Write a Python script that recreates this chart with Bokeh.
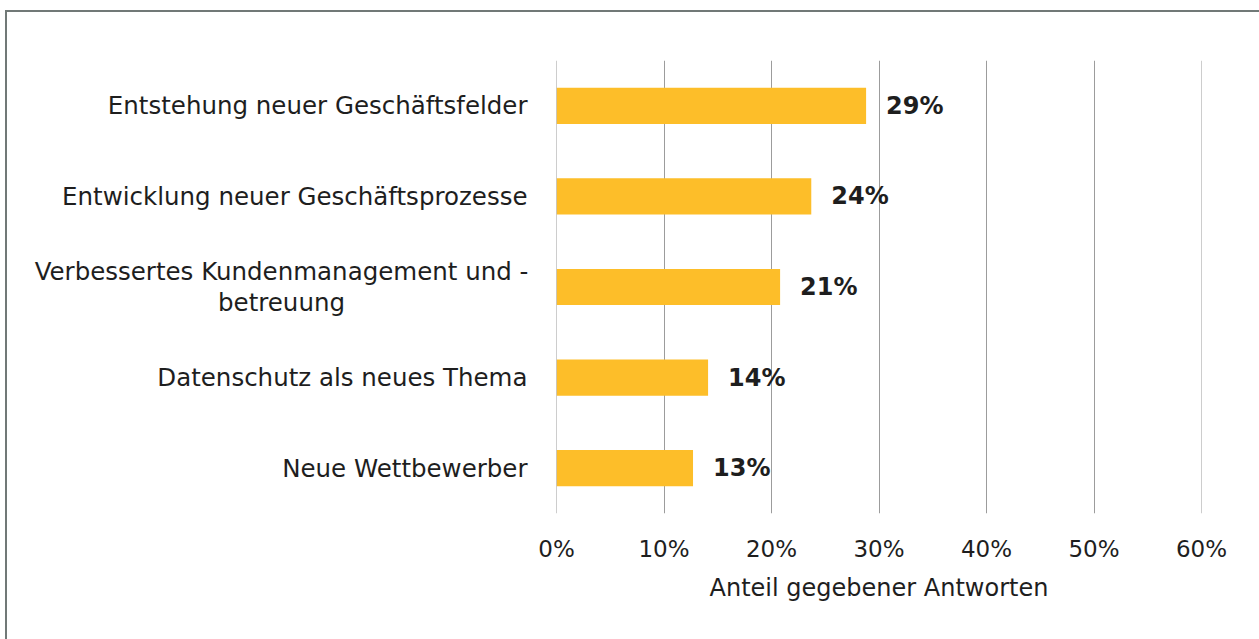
from bokeh.plotting import figure
from bokeh.layouts import row
from bokeh.models import ColumnDataSource, FactorRange, FixedTicker, PrintfTickFormatter, LabelSet, Span, Range1d
from bokeh.core.properties import value
from bokeh.embed import file_html
from bokeh.resources import INLINE

categories = [
    "Entstehung neuer Geschäftsfelder",
    "Entwicklung neuer Geschäftsprozesse",
    "Verbessertes Kundenmanagement und -\nbetreuung",
    "Datenschutz als neues Thema",
    "Neue Wettbewerber",
]
values = [28.8, 23.7, 20.8, 14.1, 12.7]
value_labels = ["29%", "24%", "21%", "14%", "13%"]
x_ticks = [0, 10, 20, 30, 40, 50, 60]
x_title = "Anteil gegebener Antworten"

FONT = "DejaVu Sans"
TEXT = "#1e1e1e"
GRID = "#9c9c9c"

P_PAD = 20            # space left of the bars inside the main chart (px)
LEFT_W = 529          # width of the label panel (px)
LABEL_GAP = 29        # gap between label and bars (px)
MULTI_HALF = 246      # half width of the first line of the two-line label (px)

source = ColumnDataSource(dict(cat=categories, val=values, lab=value_labels))

yr = FactorRange(factors=list(reversed(categories)))

# ---- main chart ----
p = figure(
    y_range=yr, x_range=(0, 60),
    width=P_PAD + 645 + 58, height=627,
    frame_width=645, frame_height=453,
    min_border_left=P_PAD, min_border_top=48, min_border_right=58, min_border_bottom=126,
    output_backend="svg", toolbar_location=None,
)
p.outline_line_color = None

p.hbar(y="cat", right="val", left=0, height=0.4, source=source,
       fill_color="#FDBE29", line_color=None)

for t in (x_ticks[0], x_ticks[-1]):
    p.add_layout(Span(location=t, dimension="height", line_color=GRID, line_width=1))

p.add_layout(LabelSet(x="val", y="cat", text="lab", source=source, x_offset=20,
                      text_baseline="middle", text_font=value(FONT), text_font_style="bold",
                      text_font_size="24px", text_color=TEXT))

p.yaxis.visible = False

p.xaxis.ticker = FixedTicker(ticks=x_ticks)
p.xaxis.formatter = PrintfTickFormatter(format="%d%%")
p.xaxis.axis_label = x_title
p.xaxis.axis_label_text_font = FONT
p.xaxis.axis_label_text_font_style = "normal"
p.xaxis.axis_label_text_font_size = "24px"
p.xaxis.axis_label_text_color = TEXT
p.xaxis.axis_label_standoff = 9
p.xaxis.major_label_standoff = 16
p.xaxis.axis_line_color = None
p.xaxis.major_tick_line_color = None
p.xaxis.minor_tick_line_color = None
p.xaxis.major_label_text_font = FONT
p.xaxis.major_label_text_font_size = "23px"
p.xaxis.major_label_text_color = TEXT

p.xgrid.grid_line_color = GRID
p.xgrid.grid_line_width = 1
p.ygrid.grid_line_color = None

# ---- category label panel (shares the categorical y range) ----
left = figure(
    y_range=yr, x_range=Range1d(0, LEFT_W),
    width=LEFT_W, height=627,
    frame_width=LEFT_W, frame_height=453,
    min_border_left=0, min_border_top=48, min_border_right=0, min_border_bottom=126,
    output_backend="svg", toolbar_location=None,
)
left.outline_line_color = None
left.axis.visible = False
left.grid.grid_line_color = None

anchor = LEFT_W + P_PAD - LABEL_GAP
is_multi = ["\n" in c for c in categories]
lab_src = ColumnDataSource(dict(
    cat=categories,
    lx=[anchor - (MULTI_HALF if m else 0) for m in is_multi],
    align=["center" if m else "right" for m in is_multi],
))
left.text(x="lx", y="cat", text="cat", source=lab_src, text_align="align",
          text_baseline="middle", text_font=value(FONT), text_font_size=value("24.5px"),
          text_color=TEXT, text_line_height=1.1)

layout = row(left, p)
layout.styles = {"margin": "10px 0 0 5px",
                 "border-top": "2px solid #717977", "border-left": "2px solid #717977"}

open("out.html", "w").write(file_html(layout, INLINE))
